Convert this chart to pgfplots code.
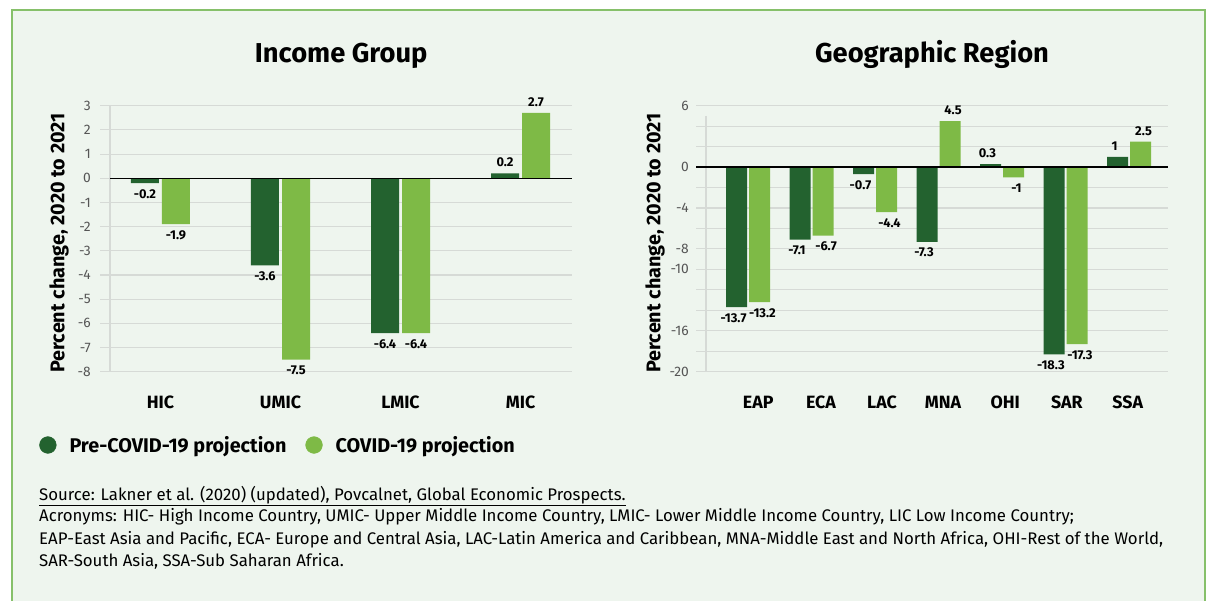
\documentclass[border=0pt]{standalone}
\usepackage{fontspec}
\setmainfont{Fira Sans}
\usepackage{pgfplots}
\pgfplotsset{compat=1.18}
\usepackage{pgfplotstable}

\definecolor{dkg}{HTML}{23622F}
\definecolor{ltg}{HTML}{7EBA46}
\definecolor{bgc}{HTML}{EEF5EE}
\definecolor{framec}{HTML}{86C06A}
\definecolor{gridc}{HTML}{D6DAD6}
\definecolor{tickc}{HTML}{555555}

\newcommand\titfont{\bfseries\fontsize{27.3}{32}\selectfont}
\newcommand\catfont{\bfseries\fontsize{17.8}{20}\selectfont}
\newcommand\labfont{\bfseries\fontsize{19.8}{22}\selectfont}
\newcommand\legfont{\bfseries\fontsize{19.8}{22}\selectfont}
\newcommand\valfont{\bfseries\fontsize{12.8}{15}\selectfont}
\newcommand\tickfont{\fontsize{13.8}{15}\selectfont}
\newcommand\footfont{\fontsize{16.8}{19}\selectfont}

\pgfplotstableread{
x pre covid
0 -0.2 -1.9
1 -3.6 -7.5
2 -6.4 -6.4
3 0.2 2.7
}\income

\pgfplotstableread{
x pre covid
0 -13.7 -13.2
1 -7.1 -6.7
2 -0.7 -4.4
3 -7.3 4.5
4 0.3 -1
5 -18.3 -17.3
6 1 2.5
}\region

\pgfplotsset{
  common/.style={
    scale only axis, width=472pt, height=266pt, anchor=south west,
    axis line style={draw=none}, tick style={draw=none},
    ymajorgrids, grid style={gridc, line width=1.1pt},
    yticklabel style={font=\tickfont, text=tickc, anchor=east, inner sep=0pt},
    xticklabel style={font=\catfont, anchor=base, inner sep=0pt, yshift=-36.3pt},
    ylabel={Percent change, 2020 to 2021},
    ylabel style={font=\labfont, anchor=center, at={(axis description cs:-0.0869,0.484)}},
    title style={font=\titfont, anchor=base, yshift=36.7pt},
    clip=false,
    nodes near coords,
    point meta=explicit symbolic,
    visualization depends on={rawy \as \rawy},
    every node near coord/.append style={font=\valfont, inner sep=6pt,
      anchor={\ifdim\rawy pt<0pt north\else south\fi}},
  }
}

\begin{document}
\begin{tikzpicture}[x=1pt,y=1pt]
\useasboundingbox (0,0) rectangle (1207,600);
\fill[white] (0,0) rectangle (1207,600);
\fill[bgc] (12,-5) rectangle (1205,590);
\draw[framec, line width=1.3pt] (12,-5) -- (12,590) -- (1205,590) -- (1205,-5);

\begin{axis}[common,
  at={(100pt,228.3pt)},
  xmin=-0.504, xmax=3.429, ymin=-8, ymax=3,
  ytick={-8,-7,-6,-5,-4,-3,-2,-1,0,1,2,3},
  yticklabels={-8,-7,-6,-5,-4,-3,-2,-1,0,1,2,3},
  yticklabel style={xshift=-9pt},
  xtick={0,1,2,3}, xticklabels={HIC,UMIC,LMIC,MIC},
  title={Income Group},
  title style={at={(axis description cs:0.511,1)}},
  legend style={at={(axis description cs:-0.1286,-0.2756)}, anchor=west,
    draw=none, fill=none, inner sep=0pt, outer sep=0pt, font=\legfont,
    legend columns=2,
    /tikz/every odd column/.append style={column sep=11pt},
    /tikz/every even column/.append style={column sep=17pt}},
  legend cell align=left,
]
\addlegendimage{legend image code/.code={\fill[dkg] (8.4pt,0pt) circle (8.4pt);}}
\addlegendimage{legend image code/.code={\fill[ltg] (8.4pt,0pt) circle (8.4pt);}}
\draw[gridc, line width=1.1pt] (axis cs:-0.421,-8) -- (axis cs:-0.421,3);
\addplot[ybar, bar width=28pt, bar shift=0pt, fill=dkg, draw=none]
  table[x expr=\thisrow{x}-0.1292, y=pre, meta=pre] {\income};
\addplot[ybar, bar width=28pt, bar shift=0pt, fill=ltg, draw=none]
  table[x expr=\thisrow{x}+0.1292, y=covid, meta=covid] {\income};
\draw[black, line width=1.2pt] (axis cs:-0.421,0) -- (axis cs:3.429,0);
\legend{Pre-COVID-19 projection, COVID-19 projection}
\end{axis}

\begin{axis}[common,
  at={(696pt,228.3pt)},
  xmin=-0.819, xmax=6.614, ymin=-20, ymax=6,
  ytick={-20,-18,-16,-14,-12,-10,-8,-6,-4,-2,0,2,4,6},
  yticklabels={-20,,-16,,,-10,-8,,-4,,0,,,6},
  yticklabel style={xshift=-7pt},
  xtick={0.16,1.15,2.11,3.07,4.05,5.02,5.98},
  xticklabels={EAP,ECA,LAC,MNA,OHI,SAR,SSA},
  title={Geographic Region},
  title style={at={(axis description cs:0.5,1)}},
]
\draw[gridc, line width=1.1pt] (axis cs:-0.661,5) -- (axis cs:-0.661,-20);
\addplot[ybar, bar width=21pt, bar shift=0pt, fill=dkg, draw=none,
  every node near coord/.append style={xshift=-3pt}]
  table[x expr=\thisrow{x}-0.1811, y=pre, meta=pre] {\region};
\addplot[ybar, bar width=21pt, bar shift=0pt, fill=ltg, draw=none,
  every node near coord/.append style={xshift=3pt}]
  table[x expr=\thisrow{x}+0.1811, y=covid, meta=covid] {\region};
\draw[black, line width=1.2pt] (axis cs:-0.819,0) -- (axis cs:6.614,0);
\end{axis}

\node[anchor=base west, inner sep=0pt, font=\footfont] at (39,100)
  {\underline{Source: Lakner et al. (2020) (updated), Povcalnet, Global Economic Prospects.}};
\node[anchor=base west, inner sep=0pt, font=\footfont] at (39,78.3)
  {Acronyms: HIC- High Income Country, UMIC- Upper Middle Income Country, LMIC- Lower Middle Income Country, LIC Low Income Country;};
\node[anchor=base west, inner sep=0pt, font=\footfont] at (39,55.7)
  {EAP-East Asia and Pacific, ECA- Europe and Central Asia, LAC-Latin America and Caribbean, MNA-Middle East and North Africa, OHI-Rest of the World,};
\node[anchor=base west, inner sep=0pt, font=\footfont] at (39,33.3)
  {SAR-South Asia, SSA-Sub Saharan Africa.};
\end{tikzpicture}
\end{document}
